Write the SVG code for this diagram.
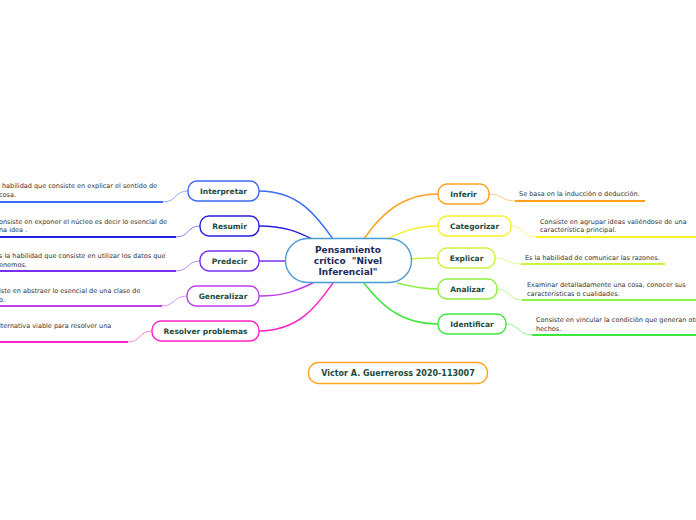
<svg xmlns="http://www.w3.org/2000/svg" width="696" height="520" viewBox="0 0 696 520">
<style>
.node{fill:#fff;stroke-width:1.4}
.lbl{font-family:"DejaVu Sans",Verdana,sans-serif;font-weight:bold;font-size:7.5px;fill:#1d4a3a;text-anchor:middle}
.ctr{font-family:"DejaVu Sans",Verdana,sans-serif;font-weight:bold;font-size:9px;fill:#1c2a5c;text-anchor:middle}
.desc{font-family:"DejaVu Sans",Verdana,sans-serif;font-size:6.5px;fill:#333}
.con{fill:none;stroke-width:1.5}
.thin{fill:none;stroke-width:0.8;stroke-opacity:0.7}
.ul{fill:none;stroke-width:1.8}
</style>
<rect width="696" height="520" fill="#fff"/>
<g id="connectors">
<path class="con" stroke="#3d6bf5" d="M259,191 C300,191 318,218 333,239"/>
<path class="con" stroke="#2a1ee0" d="M259,226 C285,226 298,232 312,239"/>
<path class="con" stroke="#7a2ff0" d="M259,261 L286,261"/>
<path class="con" stroke="#c03ef0" d="M259,296 C285,296 298,290 313,283"/>
<path class="con" stroke="#ff22c8" d="M259,331 C300,331 318,304 333,283"/>
<path class="con" stroke="#ff9f1c" d="M364,239 C378,218 400,194 438,194"/>
<path class="con" stroke="#f7ef2a" d="M387,239 C402,232 415,226 438,226"/>
<path class="con" stroke="#c9f53c" d="M411,259 C420,258 428,258 438,258"/>
<path class="con" stroke="#8ef040" d="M397,283 C412,287 422,289 438,289"/>
<path class="con" stroke="#3de83d" d="M364,283 C380,304 400,324 438,324"/>
<path class="thin" stroke="#3d6bf5" d="M163,202 C177,202 174,191 188,191"/>
<path class="ul" stroke="#3d6bf5" d="M0,202 L163,202"/>
<path class="thin" stroke="#2a1ee0" d="M176,237 C189,237 187,226 200,226"/>
<path class="ul" stroke="#2a1ee0" d="M0,237 L176,237"/>
<path class="thin" stroke="#7a2ff0" d="M176,271 C189,271 187,261 200,261"/>
<path class="ul" stroke="#7a2ff0" d="M0,271 L176,271"/>
<path class="thin" stroke="#c03ef0" d="M162,306 C175,306 173,296 187,296"/>
<path class="ul" stroke="#c03ef0" d="M0,306 L162,306"/>
<path class="thin" stroke="#ff22c8" d="M128,342 C141,342 139,331 152,331"/>
<path class="ul" stroke="#ff22c8" d="M0,342 L128,342"/>
<path class="thin" stroke="#ff9f1c" d="M489,194 C503,194 501,201 515,201"/>
<path class="ul" stroke="#ff9f1c" d="M515,201 L645,201"/>
<path class="thin" stroke="#f7ef2a" d="M511,226 C524,226 522,237 536,237"/>
<path class="ul" stroke="#f7ef2a" d="M536,237 L696,237"/>
<path class="thin" stroke="#c9f53c" d="M495,258 C508,258 507,264 521,264"/>
<path class="ul" stroke="#c9f53c" d="M521,264 L665,264"/>
<path class="thin" stroke="#8ef040" d="M497,289 C510,289 509,300 522,300"/>
<path class="ul" stroke="#8ef040" d="M522,300 L696,300"/>
<path class="thin" stroke="#3de83d" d="M506,324 C519,324 518,335 532,335"/>
<path class="ul" stroke="#3de83d" d="M532,335 L696,335"/>
</g>
<g id="center">
<rect class="node" x="285.5" y="238.5" width="126" height="44" rx="22" stroke="#4a9ad8"/>
<text class="ctr" x="348" y="253">Pensamiento</text>
<text class="ctr" x="348" y="264" xml:space="preserve">crítico  "Nivel</text>
<text class="ctr" x="348" y="275">Inferencial"</text>
</g>
<g id="interpretar">
<rect class="node" x="188" y="181" width="71" height="20" rx="9" stroke="#3d6bf5"/>
<text class="lbl" x="223.5" y="193.7">Interpretar</text>
<text class="desc" x="2" y="188">habilidad que consiste en explicar el sentido de</text>
<text class="desc" x="-1" y="196.5">cosa.</text>
</g>
<g id="resumir">
<rect class="node" x="200" y="216" width="59" height="20" rx="9" stroke="#2a1ee0"/>
<text class="lbl" x="229.5" y="228.7">Resumir</text>
<text class="desc" x="-1" y="223.5">onsiste en exponer el núcleo es decir lo esencial de</text>
<text class="desc" x="-1" y="232">na idea .</text>
</g>
<g id="predecir">
<rect class="node" x="200" y="251" width="59" height="20" rx="9" stroke="#7a2ff0"/>
<text class="lbl" x="229.5" y="263.7">Predecir</text>
<text class="desc" x="-1" y="258">s la habilidad que consiste en utilizar los datos que</text>
<text class="desc" x="-1" y="266.5">enemos.</text>
</g>
<g id="generalizar">
<rect class="node" x="187" y="286" width="72" height="20" rx="9" stroke="#c03ef0"/>
<text class="lbl" x="223" y="298.7">Generalizar</text>
<text class="desc" x="-1" y="293">iste en abstraer lo esencial de una clase de</text>
<text class="desc" x="-1" y="301.5">o.</text>
</g>
<g id="resolver">
<rect class="node" x="152" y="321" width="107" height="20" rx="9" stroke="#ff22c8"/>
<text class="lbl" x="205.5" y="333.7">Resolver problemas</text>
<text class="desc" x="-1" y="328">lternativa viable para resolver una</text>
</g>
<g id="inferir">
<rect class="node" x="438" y="184" width="51" height="20" rx="9" stroke="#ff9f1c"/>
<text class="lbl" x="463.5" y="196.7">Inferir</text>
<text class="desc" x="519" y="195.5">Se basa en la inducción o deducción.</text>
</g>
<g id="categorizar">
<rect class="node" x="438" y="216" width="73" height="20" rx="9" stroke="#f7ef2a"/>
<text class="lbl" x="474.5" y="228.7">Categorizar</text>
<text class="desc" x="540" y="223.5">Consiste en agrupar ideas valiéndose de una</text>
<text class="desc" x="540" y="232">característica principal.</text>
</g>
<g id="explicar">
<rect class="node" x="438" y="248" width="57" height="20" rx="9" stroke="#c9f53c"/>
<text class="lbl" x="466.5" y="260.7">Explicar</text>
<text class="desc" x="525" y="260">Es la habilidad de comunicar las razones.</text>
</g>
<g id="analizar">
<rect class="node" x="438" y="279" width="59" height="20" rx="9" stroke="#8ef040"/>
<text class="lbl" x="467.5" y="291.7">Analizar</text>
<text class="desc" x="527" y="287">Examinar detalladamente una cosa, conocer sus</text>
<text class="desc" x="527" y="295.5">características o cualidades.</text>
</g>
<g id="identificar">
<rect class="node" x="438" y="314" width="68" height="20" rx="9" stroke="#3de83d"/>
<text class="lbl" x="472" y="326.7">Identificar</text>
<text class="desc" x="536" y="322">Consiste en vincular la condición que generan otros</text>
<text class="desc" x="536" y="330.5">hechos.</text>
</g>
<g id="autor">
<rect class="node" x="308.5" y="362.5" width="179" height="21" rx="10" stroke="#ffa820"/>
<text class="lbl" x="398" y="375.8" style="font-size:8px">Victor A. Guerreross 2020-113007</text>
</g>
</svg>
